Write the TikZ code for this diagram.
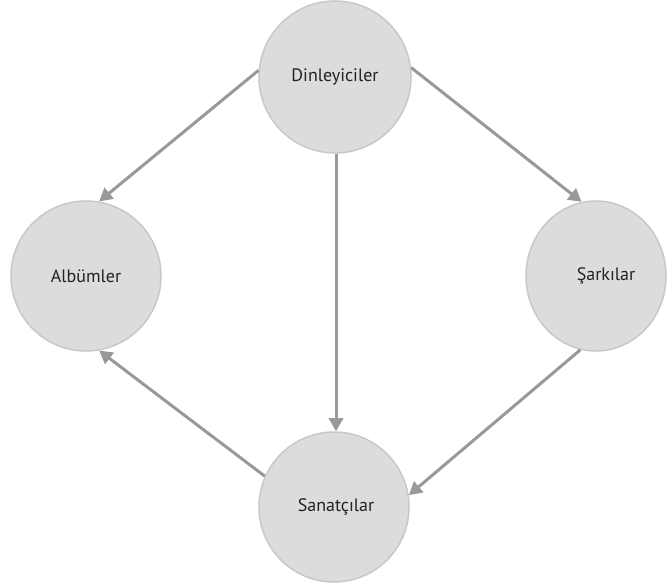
\documentclass[tikz,border=0pt]{standalone}
\usepackage{fontspec}
\setmainfont{PT Sans}
\usetikzlibrary{arrows.meta,shapes.geometric}
\definecolor{nodefill}{HTML}{DCDCDC}
\definecolor{nodeedge}{HTML}{C8C8C8}
\definecolor{arrowgray}{HTML}{999999}
\definecolor{textdark}{HTML}{222222}
\begin{document}
\begin{tikzpicture}[x=1pt,y=1pt,
  bubble/.style={circle,fill=nodefill,draw=nodeedge,line width=1.5pt,inner sep=0pt,text=textdark,font=\fontsize{18}{20}\selectfont},
  link/.style={draw=arrowgray,line width=3pt,-{Triangle[length=13pt,width=14pt]}}]
\useasboundingbox (0,0) rectangle (668,586);
\begin{scope}
\clip (0,0) rectangle (668,586);
\node[bubble,minimum size=152pt] (D) at (335,509) {};
\node[bubble,minimum size=150pt] (A) at (86,310) {};
\node[bubble,ellipse,minimum width=140pt,minimum height=150pt] (S) at (596,310) {};
\node[bubble,minimum size=150pt] (N) at (334,79) {};
\end{scope}
\node[text=textdark,font=\fontsize{18}{20}\selectfont] (Dt) at (D.center) {Dinleyiciler};
\node[text=textdark,font=\fontsize{18}{20}\selectfont] (At) at (A.center) {Albümler};
\node[text=textdark,font=\fontsize{18}{20}\selectfont] (St) at ([xshift=10pt]S.center) {Şarkılar};
\node[text=textdark,font=\fontsize{18}{20}\selectfont] (Nt) at ([xshift=2pt]N.center) {Sanatçılar};
\draw[link] (D.175) -- (A.80);
\draw[link] (D.7) -- (S.101);
\draw[link] ([xshift=1pt]D.south) -- ([xshift=2pt]N.north);
\draw[link] (S.258) -- (N.9);
\draw[link] (N.156) -- (A.280);
\end{tikzpicture}
\end{document}
